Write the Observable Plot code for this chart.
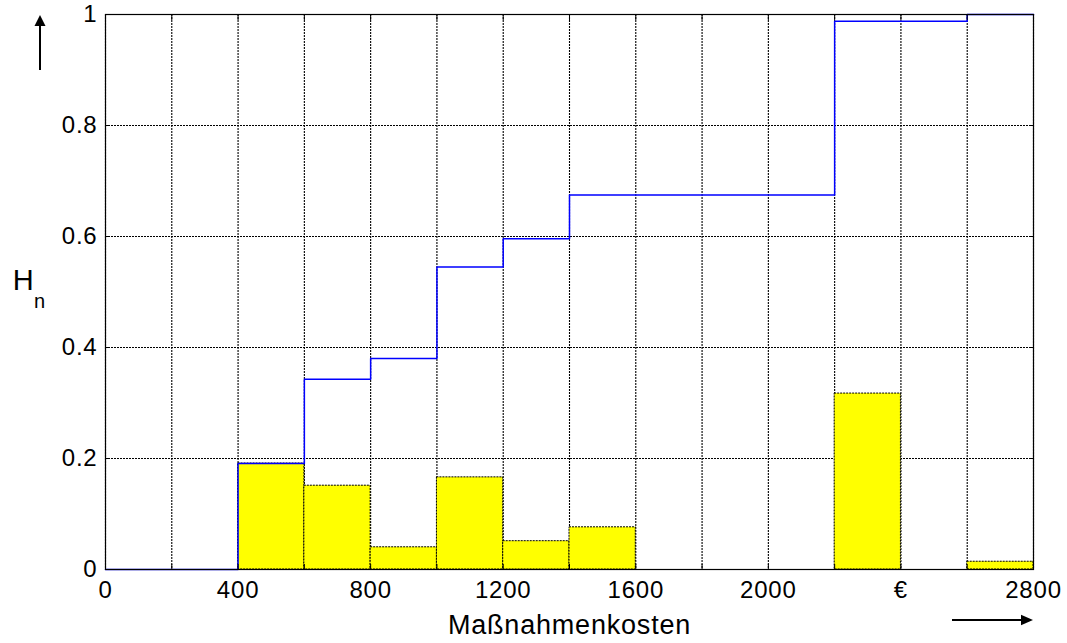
<!DOCTYPE html>
<html><head><meta charset="utf-8">
<script src="https://cdn.jsdelivr.net/npm/d3@7"></script>
<script src="https://cdn.jsdelivr.net/npm/@observablehq/plot@0.6"></script>
<style>body{margin:0;background:#fff} #chart{position:relative;width:1067px;height:643px}</style>
</head><body><div id="chart"></div>
<script>
// Histogram bins (start of each 200-wide class) and relative frequencies
const binStart = [400, 600, 800, 1000, 1200, 1400, 2200, 2600];
const binWidth = 200;
const relFreq = [0.191, 0.151, 0.040, 0.166, 0.051, 0.076, 0.317, 0.014];
// Cumulative frequency (step line)
const cumX = [0, 200, 400, 600, 800, 1000, 1200, 1400, 1600, 1800, 2000, 2200, 2400, 2600, 2800];
const cumY = [0, 0, 0.191, 0.343, 0.380, 0.545, 0.596, 0.675, 0.675, 0.675, 0.675, 0.988, 0.988, 1.0, 1.0];
// Ticks
const xTicks = [0, 200, 400, 600, 800, 1000, 1200, 1400, 1600, 1800, 2000, 2200, 2400, 2600, 2800];
const xTickValues = [0, 400, 800, 1200, 1600, 2000, 2400, 2800];
const xTickLabels = ["0", "400", "800", "1200", "1600", "2000", "€", "2800"];
const yTicks = [0, 0.2, 0.4, 0.6, 0.8, 1];
const yTickLabels = ["0", "0.2", "0.4", "0.6", "0.8", "1"];
const xLabel = "Maßnahmenkosten";
const yLabel = "H";
const ySub = "n";

const bars = binStart.map((s, i) => ({x1: s, x2: s + binWidth, y: relFreq[i]}));
const cum = cumX.map((x, i) => ({x, y: cumY[i]}));
const font = "'Liberation Sans', Arial, sans-serif";
const gridStyle = {stroke: "black", strokeOpacity: 1, strokeWidth: 1.1, strokeDasharray: "2,1"};
const blank = () => "";

const chart = Plot.plot({
  width: 1067, height: 643,
  marginLeft: 105, marginRight: 34, marginTop: 14, marginBottom: 74,
  x: {domain: [0, 2800]},
  y: {domain: [0, 1]},
  style: {fontFamily: font, fontSize: "24px", color: "black", background: "white", letterSpacing: "0.8px"},
  marks: [
    Plot.gridX(xTicks, gridStyle),
    Plot.gridY(yTicks, gridStyle),
    Plot.rectY(bars, {x1: "x1", x2: "x2", y: "y", fill: "#ffff00", stroke: "black", strokeWidth: 1, strokeDasharray: "2,1"}),
    Plot.line(cum, {x: "x", y: "y", curve: "step-after", stroke: "#0000ff", strokeWidth: 1.5}),
    Plot.frame({stroke: "black", strokeWidth: 1.2}),
    Plot.axisX(xTicks, {anchor: "bottom", tickSize: 5, dy: -5, tickFormat: blank, label: null}),
    Plot.axisX(xTicks, {anchor: "top", tickSize: 5, dy: 5, tickFormat: blank, label: null}),
    Plot.axisY(yTicks, {anchor: "left", tickSize: 5, dx: 5, tickFormat: blank, label: null}),
    Plot.axisY(yTicks, {anchor: "right", tickSize: 5, dx: -5, tickFormat: blank, label: null}),
    Plot.axisX(xTickValues, {anchor: "bottom", tickSize: 0, tickPadding: 11, fontSize: 24,
      tickFormat: d => xTickLabels[xTickValues.indexOf(d)], label: null}),
    Plot.axisY(yTicks, {anchor: "left", tickSize: 0, tickPadding: 8, fontSize: 24,
      tickFormat: d => yTickLabels[yTicks.indexOf(d)], label: null}),
    Plot.text([xLabel], {frameAnchor: "bottom", dy: 56, lineAnchor: "middle", fontSize: 27}),
    Plot.text([yLabel], {frameAnchor: "top-left", dx: -82, dy: 266, lineAnchor: "middle", textAnchor: "middle", fontSize: 29}),
    Plot.text([ySub], {frameAnchor: "top-left", dx: -65.5, dy: 287, lineAnchor: "middle", textAnchor: "middle", fontSize: 20})
  ]
});
document.getElementById("chart").appendChild(chart);

// Decorative direction arrows
const svg = d3.select(chart.tagName.toLowerCase() === "svg" ? chart : chart.querySelector("svg"));
const g = svg.append("g").attr("fill", "black").attr("stroke", "black");
g.append("line").attr("x1", 40).attr("y1", 70).attr("x2", 40).attr("y2", 24).attr("stroke-width", 2);
g.append("path").attr("d", "M40,15 L34.5,26 L45.5,26 Z").attr("stroke", "none");
g.append("line").attr("x1", 952).attr("y1", 620).attr("x2", 1024).attr("y2", 620).attr("stroke-width", 2);
g.append("path").attr("d", "M1033,620 L1021,614.8 L1021,625.2 Z").attr("stroke", "none");
</script>
</body></html>
